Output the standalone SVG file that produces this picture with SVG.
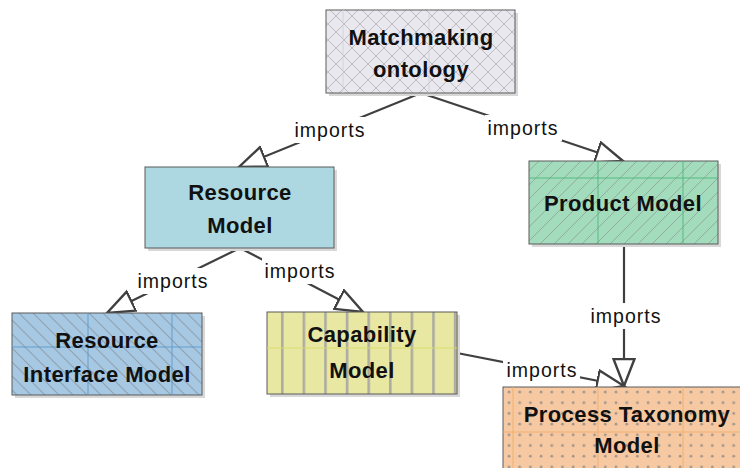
<svg xmlns="http://www.w3.org/2000/svg" width="740" height="468" viewBox="0 0 740 468">
<style>
.box{stroke:#5a5a5a;stroke-width:1}
.shadow{fill:#d8d8d8}
.title{font-family:"Liberation Sans",Arial,sans-serif;font-weight:bold;font-size:22px;letter-spacing:0.4px;fill:#111;text-anchor:middle}
.lbl{font-family:"Liberation Sans",Arial,sans-serif;font-size:19.5px;letter-spacing:1px;fill:#111;text-anchor:middle}
.conn{stroke:#404040;stroke-width:2.2;fill:none}
.bg{fill:#fff}
.grid{stroke-width:0.9;fill:none}
</style>
<defs>
<marker id="tri" markerUnits="userSpaceOnUse" markerWidth="32" markerHeight="26" refX="28" refY="12" orient="auto" viewBox="0 0 32 26">
<path d="M1,1.5 L28,12 L1,22.5 Z" fill="#fff" stroke="#404040" stroke-width="2.4" stroke-linejoin="miter"/>
</marker>
<pattern id="pCross" patternUnits="userSpaceOnUse" width="16" height="16">
<rect width="16" height="16" fill="#eae8ef"/>
<path d="M0,0 L16,16 M16,0 L0,16" stroke="#bdbbc1" stroke-width="1"/>
</pattern>
<pattern id="pGreen" patternUnits="userSpaceOnUse" width="14" height="14">
<rect width="14" height="14" fill="#a2dcbd"/>
<path d="M0,14 L14,0 M-2,2 L2,-2 M12,16 L16,12" stroke="#93ae9d" stroke-width="1"/>
</pattern>
<pattern id="pBlue" patternUnits="userSpaceOnUse" width="14" height="14">
<rect width="14" height="14" fill="#a6c8e3"/>
<path d="M0,0 L14,14 M-2,12 L2,16 M12,-2 L16,2" stroke="#8fa1b1" stroke-width="1.1"/>
</pattern>
<pattern id="pYellow" patternUnits="userSpaceOnUse" x="281" y="0" width="21.6" height="10">
<rect width="21.6" height="10" fill="#e8e8a3"/>
<rect x="0" width="2.6" height="10" fill="#acaca2"/>
</pattern>
<pattern id="pDots" patternUnits="userSpaceOnUse" x="503" y="387" width="10.7" height="10.7">
<rect width="10.7" height="10.7" fill="#f6c9a2"/>
<circle cx="6" cy="5" r="1.3" fill="#9d928a"/>
</pattern>
</defs>
<rect width="740" height="468" fill="#fff"/>

<g id="connectors">
<line class="conn" x1="421" y1="93" x2="239" y2="167" marker-end="url(#tri)"/>
<line class="conn" x1="421" y1="93" x2="623" y2="161" marker-end="url(#tri)"/>
<line class="conn" x1="240" y1="248" x2="107" y2="313" marker-end="url(#tri)"/>
<line class="conn" x1="240" y1="248" x2="363" y2="312" marker-end="url(#tri)"/>
<line class="conn" x1="624" y1="244" x2="624" y2="386" marker-end="url(#tri)"/>
<line class="conn" x1="457" y1="353" x2="624" y2="386" marker-end="url(#tri)"/>
<rect class="bg" x="292" y="117" width="76" height="26"/>
<text class="lbl" x="330" y="137">imports</text>
<rect class="bg" x="485" y="115" width="77" height="26"/>
<text class="lbl" x="523" y="135">imports</text>
<rect class="bg" x="135" y="268" width="77" height="26"/>
<text class="lbl" x="173" y="288">imports</text>
<rect class="bg" x="262" y="258" width="77" height="26"/>
<text class="lbl" x="300" y="278">imports</text>
<rect class="bg" x="588" y="303" width="77" height="26"/>
<text class="lbl" x="626" y="323">imports</text>
<rect class="bg" x="503" y="357" width="77" height="26"/>
<text class="lbl" x="542" y="377">imports</text>
</g>

<g id="matchmaking">
<rect class="shadow" x="329" y="13" width="189" height="83"/>
<rect class="box" x="326" y="10" width="189" height="83" fill="url(#pCross)"/>
<path class="grid" d="M343,10 V93 M429,10 V93" stroke="#d3d1d8"/>
<text class="title" x="421" y="45">Matchmaking</text>
<text class="title" x="421" y="77">ontology</text>
</g>

<g id="resource-model">
<rect class="shadow" x="148" y="170" width="189" height="81"/>
<rect class="box" x="145" y="167" width="189" height="81" fill="#add8e1"/>
<text class="title" x="240" y="200">Resource</text>
<text class="title" x="240" y="233">Model</text>
</g>

<g id="product-model">
<rect class="shadow" x="532" y="164" width="189" height="83"/>
<rect class="box" x="529" y="161" width="189" height="83" fill="url(#pGreen)"/>
<path class="grid" d="M598,161 V244 M683,161 V244 M529,178 H718" stroke="#4fb477"/>
<text class="title" x="623" y="211">Product Model</text>
</g>

<g id="resource-interface-model">
<rect class="shadow" x="15" y="316" width="190" height="82"/>
<rect class="box" x="12" y="313" width="190" height="82" fill="url(#pBlue)"/>
<path class="grid" d="M88,313 V395 M172,313 V395 M12,347 H202" stroke="#5b97cc"/>
<text class="title" x="107" y="348">Resource</text>
<text class="title" x="107" y="382">Interface Model</text>
</g>

<g id="capability-model">
<rect class="shadow" x="270" y="315" width="190" height="82"/>
<rect class="box" x="267" y="312" width="190" height="82" fill="url(#pYellow)"/>
<path class="grid" d="M267,348 H457" stroke="#dada6a"/>
<text class="title" x="362" y="342">Capability</text>
<text class="title" x="362" y="378">Model</text>
</g>

<g id="process-taxonomy-model">
<rect class="shadow" x="506" y="390" width="250" height="85"/>
<rect class="box" x="503" y="387" width="250" height="85" fill="url(#pDots)"/>
<path class="grid" d="M513,387 V472 M598,387 V472 M683,387 V472 M503,432 H753" stroke="#f2ae6a"/>
<text class="title" x="627" y="422">Process Taxonomy</text>
<text class="title" x="627" y="453">Model</text>
</g>
</svg>
